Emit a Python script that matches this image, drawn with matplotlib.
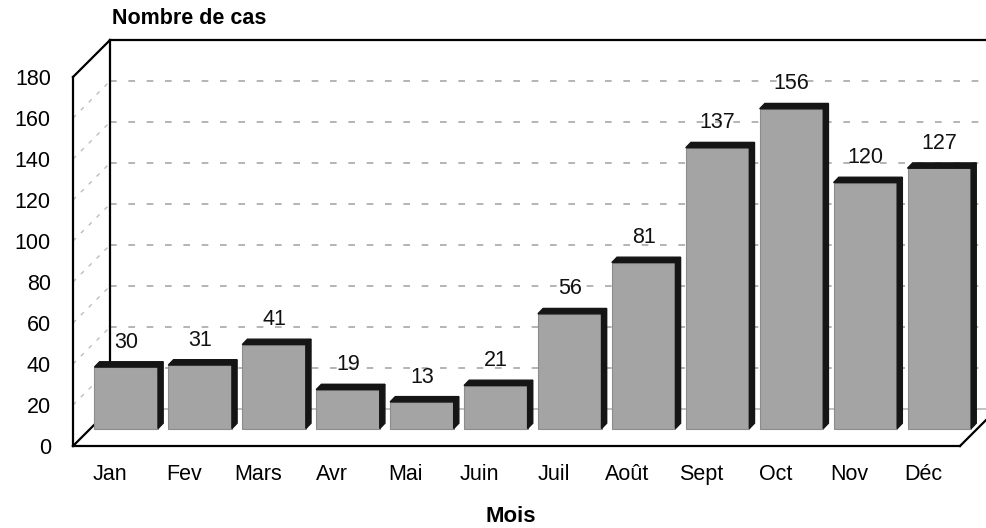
import matplotlib.pyplot as plt
import numpy as np

plt.rcParams['font.family'] = ['Liberation Sans', 'DejaVu Sans']

# Data
months = ["Jan", "Fev", "Mars", "Avr", "Mai", "Juin", "Juil", "Août", "Sept", "Oct", "Nov", "Déc"]
cases = [30, 31, 41, 19, 13, 21, 56, 81, 137, 156, 120, 127]
y_ticks = [0, 20, 40, 60, 80, 100, 120, 140, 160, 180]

# pseudo 3D geometry (category units, value units)
depth_x, depth_y = 0.5, 18.0      # back wall offset
bar_dx, bar_dy = 0.22, 8.5        # bars sit mid-depth
bar_w = 0.86
face_dx, face_dy = 0.07, 2.6      # thickness of top / side faces

fig = plt.figure(figsize=(9.87, 5.28), dpi=100)
ax = fig.add_axes([73 / 987, 82 / 528, 887 / 987, 369 / 528])
ax.set_xlim(-0.5, 11.5)
ax.set_ylim(0, 180)
for s in ax.spines.values():
    s.set_visible(False)

x = np.arange(len(months))
x0, x1 = -0.5, 11.5

# back wall gridlines
for v in y_ticks[1:]:
    ax.plot([x0 + depth_x, x1 + depth_x], [v + depth_y, v + depth_y],
            color='#a8a8a8', lw=1.2, ls=(0, (4, 7)), clip_on=False, zorder=1)
    ax.plot([x0, x0 + depth_x], [v, v + depth_y],
            color='#bdbdbd', lw=1.0, ls=(0, (3, 5)), clip_on=False, zorder=1)
# back floor line
ax.plot([x0 + depth_x, x1 + depth_x], [depth_y, depth_y], color='#b8b8b8', lw=1.2,
        clip_on=False, zorder=1)

# frame
k = dict(color='black', lw=1.6, clip_on=False, zorder=2)
ax.plot([x0, x0], [0, 180], **k)
ax.plot([x0, x0 + depth_x], [180, 180 + depth_y], **k)
ax.plot([x0 + depth_x, x1 + depth_x], [180 + depth_y, 180 + depth_y], **k)
ax.plot([x0 + depth_x, x0 + depth_x], [depth_y, 180 + depth_y], **k)
ax.plot([x0, x0 + depth_x], [0, depth_y], **k)
ax.plot([x0, x1], [0, 0], **k)
ax.plot([x1, x1 + depth_x], [0, depth_y], **k)

# bars
bars = ax.bar(x + bar_dx, cases, width=bar_w, bottom=bar_dy, color='#a4a4a4',
              edgecolor='#8c8c8c', linewidth=0.8, zorder=3, clip_on=False)
for b, v in zip(bars, cases):
    l, r = b.get_x(), b.get_x() + b.get_width()
    top = b.get_y() + b.get_height()
    ax.fill([l, l + face_dx, r + face_dx, r], [top, top + face_dy, top + face_dy, top],
            color='#151515', zorder=4, clip_on=False)
    ax.fill([r, r + face_dx, r + face_dx, r],
            [b.get_y(), b.get_y() + face_dy, top + face_dy, top],
            color='#151515', zorder=4, clip_on=False)
    ax.text(b.get_x() + b.get_width() / 2, top + 7, str(v), ha='center', va='bottom',
            fontsize=15.5, color='#111111', zorder=5, clip_on=False)

ax.set_yticks(y_ticks)
ax.set_yticklabels([str(t) for t in y_ticks], fontsize=15.5)
ax.set_xticks(x)
ax.set_xticklabels(months, fontsize=15.5)
ax.tick_params(axis='both', length=0)
ax.tick_params(axis='y', pad=16)
ax.tick_params(axis='x', pad=13)

fig.text(112 / 987, 1 - 18 / 528, "Nombre de cas", fontsize=15.5, fontweight='bold',
         ha='left', va='center')
fig.text(511 / 987, 1 - 517 / 528, "Mois", fontsize=16, fontweight='bold',
         ha='center', va='center')

plt.savefig("out.png", dpi=100)
